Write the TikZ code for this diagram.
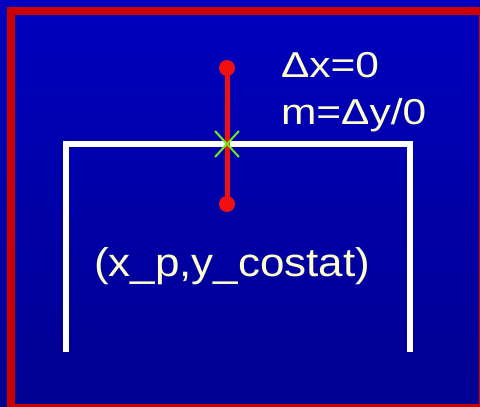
\documentclass[tikz,border=0pt]{standalone}
\usepackage{fontspec}
\setmainfont{Liberation Sans}
\usetikzlibrary{positioning, calc}
\definecolor{slideblue}{HTML}{0000BE}
\definecolor{slidenavy}{HTML}{000090}
\definecolor{framered}{HTML}{CC0000}
\definecolor{segred}{HTML}{F01010}
\definecolor{hitgreen}{HTML}{66EE22}
\definecolor{labelcream}{HTML}{FFFFCC}
\begin{document}
\begin{tikzpicture}[
      x=1pt, y=-1pt,
      every node/.style={text=labelcream, inner sep=0pt, outer sep=0pt},
      wall/.style={draw=white, line width=6pt},
      segment/.style={draw=segred, line width=5pt},
      enddot/.style={circle, fill=segred, minimum size=16pt},
      hit/.style={draw=hitgreen, line width=2pt},
      bigtext/.style={font=\fontsize{36}{42}\selectfont, xscale=1.18, anchor=base west},
    ]
    \useasboundingbox (0,0) rectangle (480,407);
    \clip (0,0) rectangle (480,407);
    \shade[top color=slideblue, bottom color=slidenavy] (0,0) rectangle (480,407);
    \draw[framered, line width=8pt] (11,11) rectangle (483,408);

    % bracket
    \coordinate (wallBL) at (66,352);
    \coordinate (wallTL) at (66,144);
    \coordinate (wallTR) at (410,144);
    \coordinate (wallBR) at (410,352);
    \draw[wall] (wallBL) -- (wallTL) -- ([xshift=3pt]wallTR);
    \draw[wall] (wallTR) -- (wallBR);

    % vertical segment
    \node[enddot] (top) at (227,68) {};
    \node[enddot] (bot) at (227,204) {};
    \draw[segment] (top.center) -- (bot.center);
    \node[inner sep=0pt, minimum size=0pt] (hitpt) at (227,144) {};
    \draw[hit] ($(hitpt)+(-12,-13)$) -- ($(hitpt)+(12,13)$);
    \draw[hit] ($(hitpt)+(-12,13)$) -- ($(hitpt)+(12,-13)$);

    \node[bigtext] (dx) at (281,77.7) {Δx=0};
    \node[bigtext] (slope) at (281,124.3) {m=Δy/0};
    \node[bigtext, font=\fontsize{40}{46}\selectfont, xscale=1.1/1.18] (pt) at (94,276.7) {(x\_p,y\_costat)};
  \end{tikzpicture}
\end{document}
